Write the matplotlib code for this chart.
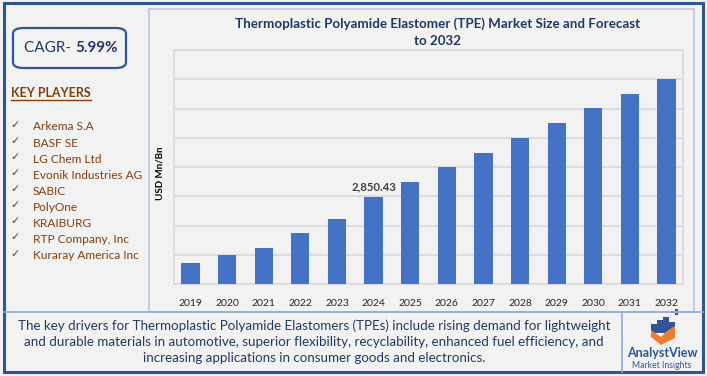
import matplotlib
matplotlib.use("Agg")
import matplotlib.pyplot as plt
from matplotlib.patches import FancyBboxPatch, Rectangle, Polygon
from matplotlib.lines import Line2D

plt.rcParams['font.family'] = ['Lato', 'DejaVu Sans']

W, H = 707, 376

years = ['2019', '2020', '2021', '2022', '2023', '2024', '2025',
         '2026', '2027', '2028', '2029', '2030', '2031', '2032']
values = [688, 950, 1179, 1671, 2129, 2850.43, 3342,
          3833, 4292, 4783, 5274, 5766, 6225, 6716]
labelled_year = '2024'

players = ['Arkema S.A', 'BASF SE', 'LG Chem Ltd', 'Evonik Industries AG', 'SABIC',
           'PolyOne', 'KRAIBURG', 'RTP Company, Inc', 'Kuraray America Inc']
cagr = '5.99%'
title = 'Thermoplastic Polyamide Elastomer (TPE) Market Size and Forecast\nto 2032'
summary = ('The key drivers for Thermoplastic Polyamide Elastomers (TPEs) include rising demand for lightweight\n'
           'and durable materials in automotive, superior flexibility, recyclability, enhanced fuel efficiency, and\n'
           'increasing applications in consumer goods and electronics.')

navy = '#1F3864'
brown = '#843C0C'
bar_blue = '#4472C4'
grid_c = '#D9D9D9'


def fx(px):
    return px / W


def fy(py):
    return 1 - py / H


fig = plt.figure(figsize=(W / 100, H / 100), dpi=100, facecolor='#F2F2F2')

# frames
fig.add_artist(Rectangle((fx(149), fy(312)), fx(694) - fx(149), fy(9) - fy(312),
                         transform=fig.transFigure, fill=False, ec='#B4C7E7', lw=1.2))
fig.add_artist(Line2D([fx(4), fx(703)], [fy(312), fy(312)], transform=fig.transFigure, color='#8EA9DB', lw=1.2))
fig.add_artist(Line2D([fx(622), fx(622)], [fy(312), fy(372)], transform=fig.transFigure, color='#8EA9DB', lw=1.2))
fig.add_artist(Rectangle((fx(4), fy(372)), fx(703) - fx(4), fy(3) - fy(372),
                         transform=fig.transFigure, fill=False, ec='#2F5597', lw=2.2))

# bar chart
ax = fig.add_axes([fx(174), fy(284), fx(683) - fx(174), fy(50) - fy(284)])
ax.set_facecolor('none')
x = range(len(years))
ax.bar(x, values, width=0.5, color=bar_blue, zorder=3)
ax.set_xlim(-0.45, len(years) - 0.55)
ax.set_ylim(0, 7680)
ax.set_yticks([960 * i for i in range(9)])
ax.yaxis.grid(True, color=grid_c, lw=1.2, zorder=0)
ax.tick_params(axis='y', left=False, labelleft=False)
ax.tick_params(axis='x', bottom=False, labelsize=7.5, labelcolor='#262626', pad=7)
ax.set_xticks(list(x))
ax.set_xticklabels(years)
for s in ax.spines.values():
    s.set_color(grid_c)
    s.set_linewidth(1.2)
i = years.index(labelled_year)
ax.text(i, values[i] + 150, f'{values[i]:,.2f}', ha='center', va='bottom',
        fontsize=8.2, fontweight='bold', color='#404040')

fig.text(fx(160), fy(173), 'USD Mn/Bn', rotation=90, ha='center', va='center',
         fontsize=7, fontweight='bold', color='black')
fig.text(fx(438), fy(32), title, ha='center', va='center', fontsize=9.6,
         fontweight='bold', color=navy, linespacing=1.55)

# CAGR box
fig.add_artist(FancyBboxPatch((fx(13), fy(68)), fx(126) - fx(13), fy(28) - fy(68),
                              boxstyle='round,pad=0,rounding_size=0.015',
                              transform=fig.transFigure, fill=False, ec='#2F5597', lw=1.6))
t1 = fig.text(fx(24), fy(48), 'CAGR- ', ha='left', va='center', fontsize=11, color=navy)
r = fig.canvas.get_renderer()
bb = t1.get_window_extent(renderer=r)
fig.text(bb.x1 / fig.bbox.width, fy(48), cagr, ha='left', va='center',
         fontsize=11, fontweight='bold', color=navy)

# key players
kp = fig.text(fx(11), fy(93), 'KEY PLAYERS', ha='left', va='center', fontsize=9,
              fontweight='bold', color=brown)
bb = kp.get_window_extent(renderer=r)
fig.add_artist(Line2D([fx(11), bb.x1 / fig.bbox.width], [fy(100), fy(100)],
                      transform=fig.transFigure, color=brown, lw=1))
for k, name in enumerate(players):
    yy = fy(127 + k * 16.1)
    fig.text(fx(15), yy + 0.006, '\u2713', ha='center', va='center', fontsize=8,
             color=brown, family='DejaVu Sans')
    fig.text(fx(33), yy, name, ha='left', va='center', fontsize=8.6, color=brown)

# summary
fig.text(fx(314), fy(342), summary, ha='center', va='center', fontsize=9.6,
         color=navy, linespacing=1.42)

# logo
lx, ly = 663, 333
for dx, h in [(-9, 9), (-3, 13), (3, 16), (9, 11)]:
    fig.add_artist(Rectangle((fx(lx + dx - 2.8), fy(ly)), fx(5.6), fy(ly - h) - fy(ly),
                             transform=fig.transFigure, color='#2F5597', lw=0))
for dx, dy in [(8, -20), (12, -22), (12, -18)]:
    fig.add_artist(Rectangle((fx(lx + dx), fy(ly + dy)), fx(2.5), fy(0) - fy(2.5),
                             transform=fig.transFigure, color='#2F5597', lw=0))
fig.add_artist(Polygon([[fx(lx - 12), fy(ly - 3)], [fx(lx - 2), fy(ly + 4)], [fx(lx + 4), fy(ly - 2)],
                        [fx(lx + 12), fy(ly - 7)], [fx(lx + 12), fy(ly + 5)], [fx(lx - 2), fy(ly + 12)],
                        [fx(lx - 12), fy(ly + 4)]], transform=fig.transFigure, color='#ED7D31', lw=0))
fig.text(fx(662), fy(353), 'AnalystView', ha='center', va='center', fontsize=9,
         fontweight='bold', color='#2F5597')
fig.text(fx(662), fy(365), 'Market Insights', ha='center', va='center', fontsize=6.2,
         color='#2F5597')

fig.savefig('out.png', dpi=100, facecolor=fig.get_facecolor())
